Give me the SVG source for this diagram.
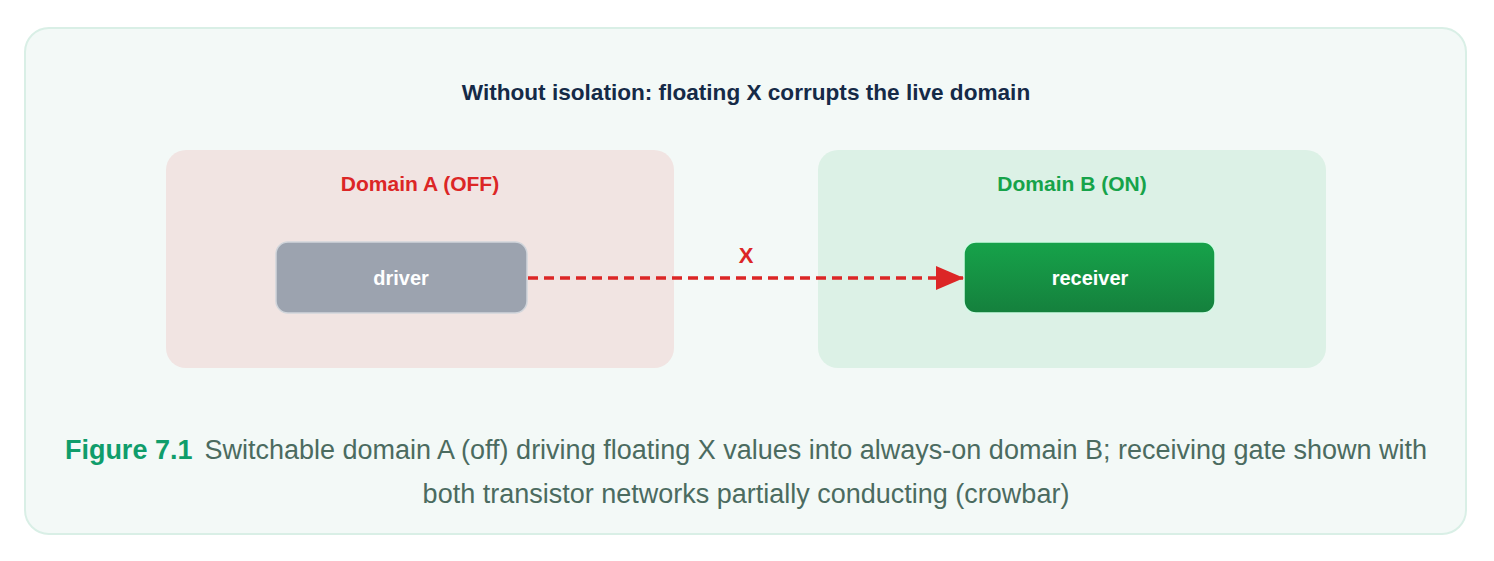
<svg xmlns="http://www.w3.org/2000/svg" width="1494" height="561" viewBox="0 0 1494 561">
<defs>
<linearGradient id="g" x1="0" y1="0" x2="0" y2="1"><stop offset="0" stop-color="#16a34a"/><stop offset="1" stop-color="#15803d"/></linearGradient>
<marker id="ah" markerWidth="28" markerHeight="24" refX="27" refY="12" orient="auto" markerUnits="userSpaceOnUse"><path d="M0,0 L28,12 L0,24 Z" fill="#dc2626"/></marker>
<style>
text{font-family:"Liberation Sans",Arial,sans-serif;text-anchor:middle}
.b{font-weight:bold}
</style>
</defs>
<rect x="25" y="28" width="1441" height="506" rx="24" fill="#f3f9f7" stroke="#d9efe6" stroke-width="2"/>
<text x="746" y="100" class="b" font-size="22.6" fill="#152a47">Without isolation: floating X corrupts the live domain</text>
<g id="domainA"><rect x="166" y="150" width="508" height="218" rx="20" fill="#f1e4e2"/>
<text x="420" y="191" class="b" font-size="21" fill="#dc2626">Domain A (OFF)</text></g>
<g id="domainB"><rect x="818" y="150" width="508" height="218" rx="20" fill="#dcf1e6"/>
<text x="1072" y="191" class="b" font-size="21" fill="#16a34a">Domain B (ON)</text></g>
<g id="driver"><rect x="276" y="242" width="251" height="71" rx="12" fill="#9ca3af" stroke="#d1d5db" stroke-width="1.5"/>
<text x="401" y="285" class="b" font-size="20" fill="#fff">driver</text></g>
<g id="receiver"><rect x="964" y="242" width="251" height="71" rx="12" fill="url(#g)" stroke="#d1fae5" stroke-width="1.5"/>
<text x="1090" y="285" class="b" font-size="20" fill="#fff">receiver</text></g>
<g id="connectors"><line x1="528" y1="278" x2="963" y2="278" stroke="#dc2626" stroke-width="3.5" stroke-dasharray="10 6" marker-end="url(#ah)"/>
<text x="746" y="263" class="b" font-size="22" fill="#dc2626">X</text></g>
<text x="746" y="459" font-size="27" fill="#4b6b60"><tspan class="b" fill="#0f9d6b">Figure 7.1</tspan><tspan dx="12">Switchable domain A (off) driving floating X values into always-on domain B; receiving gate shown with</tspan></text>
<text x="746" y="503" font-size="27" fill="#4b6b60">both transistor networks partially conducting (crowbar)</text>
</svg>
